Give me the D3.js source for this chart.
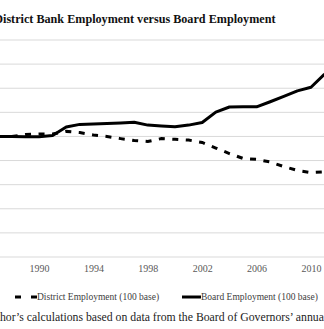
<!DOCTYPE html>
<html>
<head>
<meta charset="utf-8">
<script src="https://cdn.jsdelivr.net/npm/d3@7"></script>
<style>
body { margin: 0; background: #fff; }
svg { display: block; font-family: "Liberation Serif", "DejaVu Serif", serif; }
</style>
</head>
<body>
<div id="chart"></div>
<script>
var W = 324, H = 329;

// index values, 100 base
var years = [1987, 1988, 1989, 1990, 1991, 1992, 1993, 1994, 1995, 1996, 1997, 1998, 1999,
	2000, 2001, 2002, 2003, 2004, 2005, 2006, 2007, 2008, 2009, 2010, 2011];
var district = [100, 100, 100.8, 101, 101, 102.1, 101.6, 100.6, 100, 99.1, 98.3, 97.9, 99.1,
	98.8, 98.5, 97.5, 95.2, 92.9, 90.9, 90.5, 89.4, 87.5, 85.9, 85, 85.3];
var board = [100, 100, 99.9, 99.9, 100.4, 103.9, 105, 105.2, 105.4, 105.6, 105.9, 104.7, 104.3,
	104, 104.7, 105.8, 110.1, 112.2, 112.3, 112.3, 114.4, 116.6, 118.9, 120.4, 125.9];

var yTicks = [50, 60, 70, 80, 90, 100, 110, 120, 130, 140];
var xTicks = [1990, 1994, 1998, 2002, 2006, 2010];
var seriesNames = ["District Employment (100 base)", "Board Employment (100 base)"];
var title = "District Bank Employment versus Board Employment";
var source = "Source: Author\u2019s calculations based on data from the Board of Governors\u2019 annual reports.";

var x = d3.scaleLinear().domain([1990, 2010]).range([39, 311]);
var y = d3.scaleLinear().domain([50, 140]).range([257, 40]);

var svg = d3.select('#chart').append('svg')
	.attr('width', W)
	.attr('height', H)
	.attr('viewBox', '0 0 ' + W + ' ' + H);

// horizontal grid
svg.append('g').selectAll('line')
	.data(yTicks)
	.enter().append('line')
	.attr('x1', -40).attr('x2', W + 40)
	.attr('y1', function(d) { return y(d); })
	.attr('y2', function(d) { return y(d); })
	.attr('stroke', '#d9d9d9')
	.attr('stroke-width', 1);

var xAxis = svg.append('g')
	.attr('transform', 'translate(0,' + y(50) + ')')
	.call(d3.axisBottom(x).tickValues(xTicks).tickFormat(d3.format('d')).tickSize(0).tickPadding(8));
xAxis.select('.domain').remove();
xAxis.selectAll('text')
	.attr('font-family', '"Liberation Serif", serif')
	.attr('font-size', '10px')
	.attr('fill', '#595959');

var line = d3.line()
	.x(function(d, i) { return x(years[i]); })
	.y(function(d) { return y(d); });

svg.append('path')
	.datum(district)
	.attr('d', line)
	.attr('fill', 'none')
	.attr('stroke', '#000')
	.attr('stroke-width', 3)
	.attr('stroke-dasharray', '6,7.5');

svg.append('path')
	.datum(board)
	.attr('d', line)
	.attr('fill', 'none')
	.attr('stroke', '#000')
	.attr('stroke-width', 3)
	.attr('stroke-linejoin', 'round');

// fit a text so that a chosen substring spans from x0 to x1
function fitText(sel, from, to, x0, x1) {
	var node = sel.node();
	var len = node.getSubStringLength(from, to - from);
	var size = parseFloat(sel.attr('font-size'));
	size = size * (x1 - x0) / len;
	sel.attr('font-size', size + 'px');
	var pre = from > 0 ? node.getSubStringLength(0, from) : 0;
	sel.attr('x', x0 - pre);
}

var t = svg.append('text')
	.attr('y', 23)
	.attr('font-size', '13px')
	.attr('font-weight', 'bold')
	.attr('fill', '#111')
	.text(title);
fitText(t, 1, title.length, 3, 276);

// legend
var lg = svg.append('g');
lg.append('line')
	.attr('x1', 15).attr('x2', 37).attr('y1', 297).attr('y2', 297)
	.attr('stroke', '#000').attr('stroke-width', 3)
	.attr('stroke-dasharray', '6,10');
lg.append('text')
	.attr('x', 37).attr('y', 300)
	.attr('font-size', '9.5px').attr('fill', '#404040')
	.text(seriesNames[0]);
lg.append('line')
	.attr('x1', 182).attr('x2', 201).attr('y1', 297).attr('y2', 297)
	.attr('stroke', '#000').attr('stroke-width', 3);
lg.append('text')
	.attr('x', 201).attr('y', 300)
	.attr('font-size', '9.5px').attr('fill', '#404040')
	.text(seriesNames[1]);

var s = svg.append('text')
	.attr('y', 321)
	.attr('font-size', '12px')
	.attr('fill', '#222')
	.text(source);
var a = source.indexOf('hor');
var b = source.indexOf('annual') + 5;
fitText(s, a, b, 0, 324);
</script>
</body>
</html>
